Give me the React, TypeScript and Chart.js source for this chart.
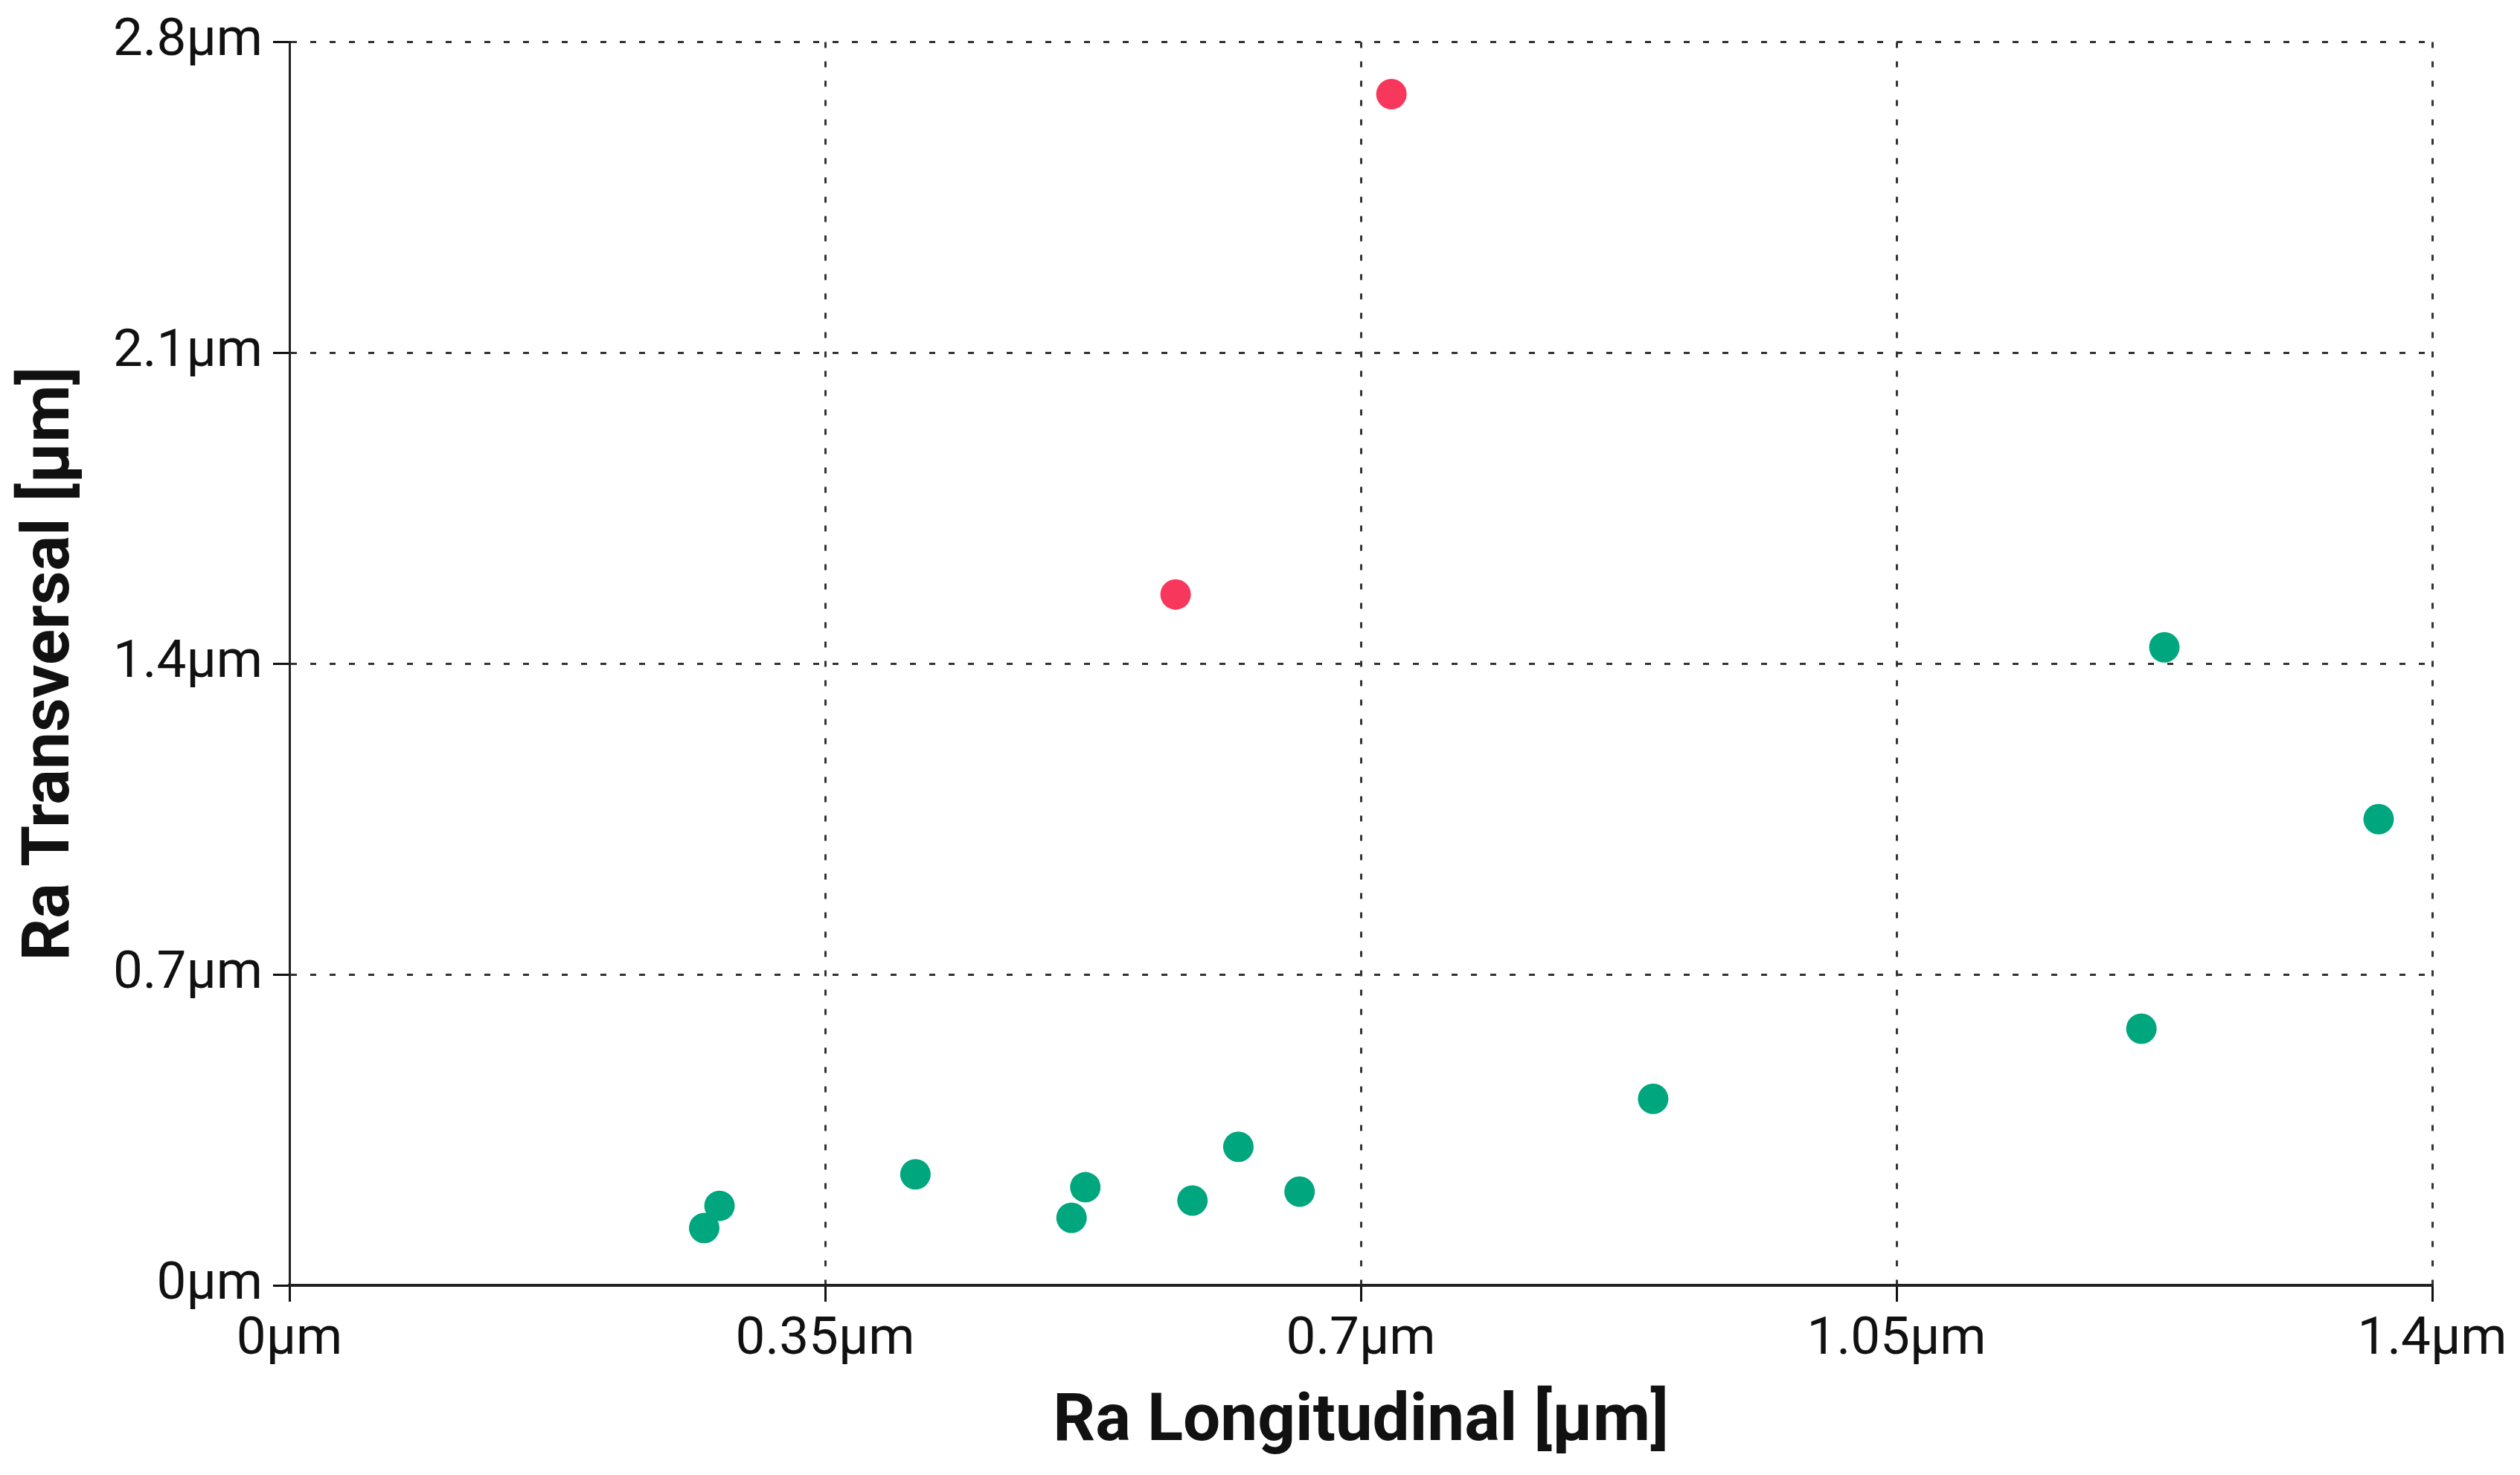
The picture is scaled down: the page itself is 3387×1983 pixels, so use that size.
import React, { useEffect, useRef } from 'react';
import Chart, { ChartConfiguration } from 'chart.js/auto';

// Ra values (µm)
const goodX = [0.271, 0.281, 0.409, 0.511, 0.52, 0.59, 0.62, 0.66, 0.891, 1.21, 1.225, 1.365];
const goodY = [0.129, 0.179, 0.25, 0.152, 0.221, 0.191, 0.312, 0.211, 0.42, 0.578, 1.437, 1.05];
const badX = [0.579, 0.72];
const badY = [1.556, 2.683];

const xTicks = [0, 0.35, 0.7, 1.05, 1.4];
const yTicks = [0, 0.7, 1.4, 2.1, 2.8];

const xTitle = 'Ra Longitudinal [µm]';
const yTitle = 'Ra Transversal [µm]';

const GREEN = '#00A67E';
const RED = '#F7375C';

const toPoints = (xs: number[], ys: number[]) => xs.map((x, i) => ({ x, y: ys[i] }));
const fmt = (v: number) => `${v}µm`;

const ScatterChart: React.FC = () => {
  const canvasRef = useRef<HTMLCanvasElement>(null);

  useEffect(() => {
    document.body.style.margin = '0';
    const ctx = canvasRef.current?.getContext('2d');
    if (!ctx) return;

    const gridCommon = {
      color: '#333',
      lineWidth: 3,
      drawTicks: true,
      tickLength: 22,
      tickWidth: 3,
      tickColor: '#111',
      tickBorderDash: [],
    };
    const tickFont = { family: 'Roboto', size: 71, weight: 'normal' as const };
    const titleFont = { family: 'Roboto', size: 89, weight: 'bold' as const };

    const config: ChartConfiguration<'scatter'> = {
      type: 'scatter',
      data: {
        datasets: [
          {
            data: toPoints(goodX, goodY),
            backgroundColor: GREEN,
            borderWidth: 0,
            pointRadius: 20.5,
            pointHoverRadius: 20.5,
          },
          {
            data: toPoints(badX, badY),
            backgroundColor: RED,
            borderWidth: 0,
            pointRadius: 20.5,
            pointHoverRadius: 20.5,
          },
        ],
      },
      options: {
        responsive: true,
        maintainAspectRatio: false,
        animation: false,
        layout: { padding: { left: 0, top: 56, right: 118, bottom: 0 } },
        plugins: { legend: { display: false }, tooltip: { enabled: false } },
        scales: {
          x: {
            type: 'linear',
            min: 0,
            max: 1.4,
            afterBuildTicks: (scale) => {
              scale.ticks = xTicks.map((value) => ({ value }));
            },
            afterFit: (scale) => {
              scale.height = 255;
            },
            ticks: {
              font: tickFont,
              color: '#111',
              padding: 10,
              maxRotation: 0,
              callback: (v) => fmt(Number(v)),
            },
            grid: gridCommon,
            border: { display: true, color: '#222', width: 4, dash: [8, 18] },
            title: {
              display: true,
              text: xTitle,
              font: titleFont,
              color: '#111',
              padding: { top: 0, bottom: 16 },
            },
          },
          y: {
            type: 'linear',
            min: 0,
            max: 2.8,
            afterBuildTicks: (scale) => {
              scale.ticks = yTicks.map((value) => ({ value }));
            },
            afterFit: (scale) => {
              scale.width = 389;
            },
            ticks: {
              font: tickFont,
              color: '#111',
              padding: 14,
              callback: (v) => fmt(Number(v)),
            },
            grid: gridCommon,
            border: { display: true, color: '#222', width: 3, dash: [8, 18] },
            title: {
              display: true,
              text: yTitle,
              font: titleFont,
              color: '#111',
              padding: { top: 16, bottom: 0 },
            },
          },
        },
      },
    };

    const chart = new Chart(ctx, config);
    return () => {
      chart.destroy();
    };
  }, []);

  return (
    <div style={{ position: 'relative', width: 3387, height: 1983, background: '#fff' }}>
      <canvas ref={canvasRef} />
    </div>
  );
};

export default function App() {
  return <ScatterChart />;
}
